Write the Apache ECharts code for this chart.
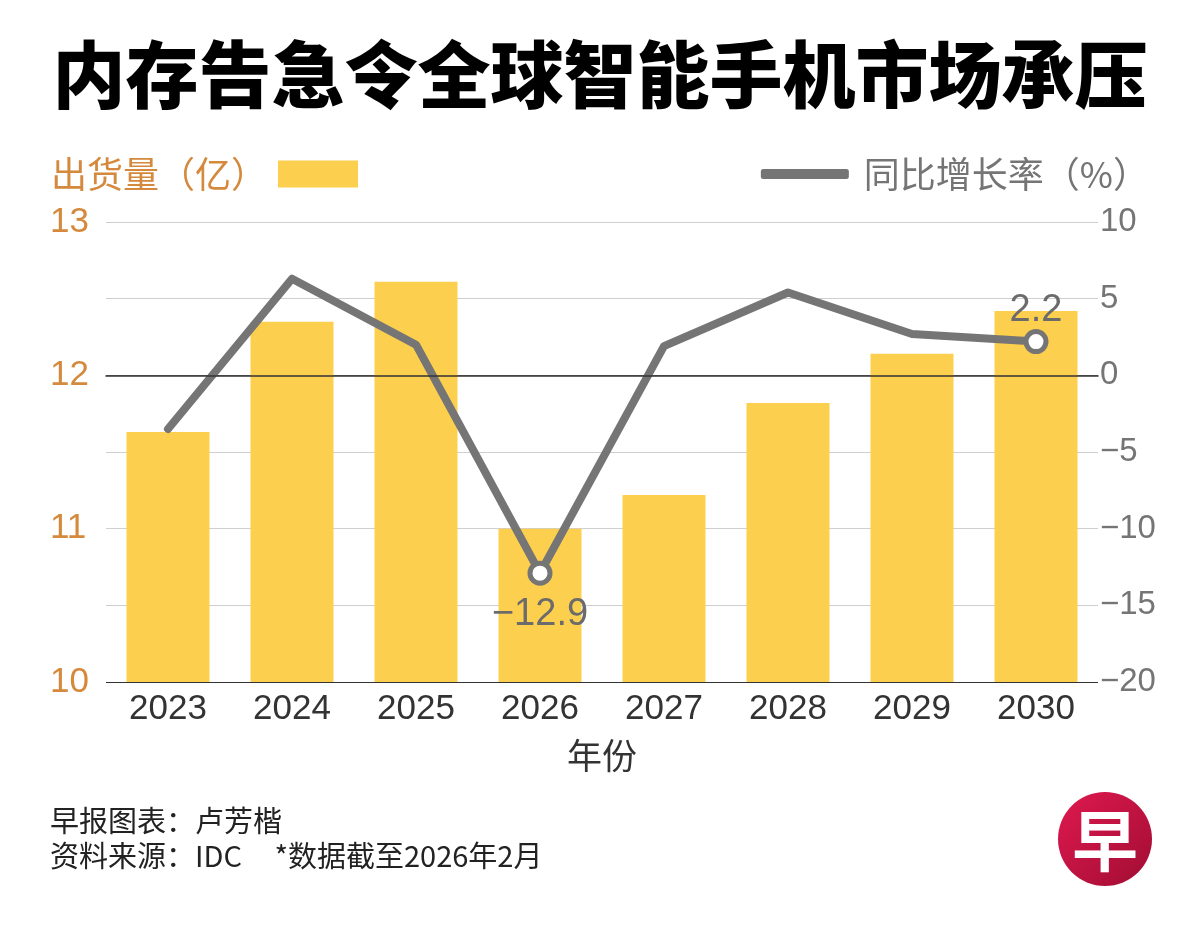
<!DOCTYPE html>
<html>
<head>
<meta charset="utf-8">
<script src="https://cdn.jsdelivr.net/npm/echarts@6/dist/echarts.min.js"></script>
<style>
html,body{margin:0;padding:0;background:#fff;}
#c{width:1200px;height:940px;}
</style>
</head>
<body>
<div id="c"></div>
<script>
const years = ['2023','2024','2025','2026','2027','2028','2029','2030'];
const shipments = [11.63, 12.35, 12.61, 11.0, 11.22, 11.82, 12.14, 12.42];
const growth = [-3.5, 6.3, 2.0, -12.9, 1.9, 5.4, 2.7, 2.2];
const labeledYears = ['2026', '2030'];
const leftTicks = [10, 11, 12, 13];
const rightTicks = [-20, -15, -10, -5, 0, 5, 10];

const NUM = "'Liberation Sans Narrow','Liberation Sans','Noto Sans CJK SC',sans-serif";
const CJK = "'Noto Sans CJK SC',sans-serif";
const ORANGE = '#D4893C';
const GRAY = '#757575';
const BAR = '#FCCF4F';

const chart = echarts.init(document.getElementById('c'));

const lineData = growth.map((v, i) => {
  if (labeledYears.indexOf(years[i]) >= 0) {
    const below = v < 0;
    return {
      value: v,
      symbol: 'circle',
      symbolSize: 20,
      label: {
        show: true,
        position: below ? 'bottom' : 'top',
        distance: below ? 10 : 0,
        formatter: p => String(p.value).replace('-', '\u2212')
      }
    };
  }
  return { value: v, symbol: 'none' };
});

chart.setOption({
  backgroundColor: '#fff',
  animation: false,
  title: {
    text: '内存告急令全球智能手机市场承压',
    left: 'center',
    top: 33,
    textStyle: { fontFamily: CJK, fontSize: 73, fontWeight: 900, color: '#000' }
  },
  legend: [
    {
      data: ['出货量（亿）'],
      left: 46,
      top: 151,
      align: 'right',
      itemWidth: 80,
      itemHeight: 27,
      itemGap: 0,
      icon: 'rect',
      textStyle: { fontFamily: CJK, fontSize: 36, color: ORANGE, padding: [0, 6, 0, 0] }
    },
    {
      data: ['同比增长率（%）'],
      right: 46,
      top: 151,
      align: 'left',
      itemWidth: 88,
      itemHeight: 10,
      icon: 'roundRect',
      itemStyle: { color: GRAY, borderWidth: 0 },
      textStyle: { fontFamily: CJK, fontSize: 36, color: GRAY, padding: [0, 0, 0, 10] }
    }
  ],
  grid: { left: 106, right: 102, top: 222, bottom: 258 },
  xAxis: {
    type: 'category',
    data: years,
    name: '年份',
    nameLocation: 'middle',
    nameGap: 56,
    nameTextStyle: { fontFamily: CJK, fontSize: 35, color: '#333' },
    axisLine: { lineStyle: { color: '#333', width: 1.5 } },
    axisTick: { show: false },
    axisLabel: { fontFamily: NUM, fontSize: 35, color: '#333', margin: 10 },
    z: 10
  },
  yAxis: [
    {
      type: 'value',
      min: 10,
      max: 13,
      interval: 0.5,
      axisLine: { show: false },
      axisTick: { show: false },
      axisLabel: {
        fontFamily: NUM, fontSize: 35, color: ORANGE, align: 'left', margin: 56,
        formatter: v => leftTicks.indexOf(v) >= 0 ? String(v) : ''
      },
      splitLine: {
        lineStyle: {
          color: ['#333333', '#cfcfcf', '#cfcfcf', '#cfcfcf', '#7a7a7a', '#cfcfcf', '#cfcfcf'],
          width: 1
        }
      }
    },
    {
      type: 'value',
      min: -20,
      max: 10,
      interval: 5,
      axisLine: { show: false },
      axisTick: { show: false },
      splitLine: { show: false },
      axisLabel: {
        fontFamily: NUM, fontSize: 33, color: GRAY, align: 'left', margin: 2,
        formatter: v => rightTicks.indexOf(v) >= 0 ? String(v).replace('-', '\u2212') : ''
      }
    }
  ],
  series: [
    {
      name: '出货量（亿）',
      type: 'bar',
      data: shipments,
      yAxisIndex: 0,
      barWidth: 83,
      itemStyle: { color: BAR }
    },
    {
      name: '同比增长率（%）',
      type: 'line',
      data: lineData,
      yAxisIndex: 1,
      lineStyle: { color: GRAY, width: 8, cap: 'round', join: 'round' },
      itemStyle: { color: '#fff', borderColor: GRAY, borderWidth: 5 },
      label: { fontFamily: NUM, fontSize: 38, color: '#6b6b6b' },
      z: 5
    }
  ],
  graphic: [
    {
      type: 'text',
      left: 50,
      top: 806,
      style: { text: '早报图表：卢芳楷', fontFamily: CJK, fontSize: 29, fill: '#222' }
    },
    {
      type: 'text',
      left: 50,
      top: 841,
      style: { text: '资料来源：IDC     *数据截至2026年2月', fontFamily: CJK, fontSize: 29, fill: '#222' }
    },
    {
      type: 'circle',
      shape: { cx: 1105, cy: 839, r: 47 },
      style: {
        fill: new echarts.graphic.LinearGradient(0, 0, 1, 1, [
          { offset: 0, color: '#E0194F' },
          { offset: 1, color: '#A00D33' }
        ])
      }
    },
    {
      type: 'text',
      x: 1105,
      y: 841,
      style: {
        text: '早', fontFamily: CJK, fontSize: 66, fontWeight: 700, fill: '#fff',
        align: 'center', verticalAlign: 'middle'
      }
    }
  ]
});
</script>
</body>
</html>
